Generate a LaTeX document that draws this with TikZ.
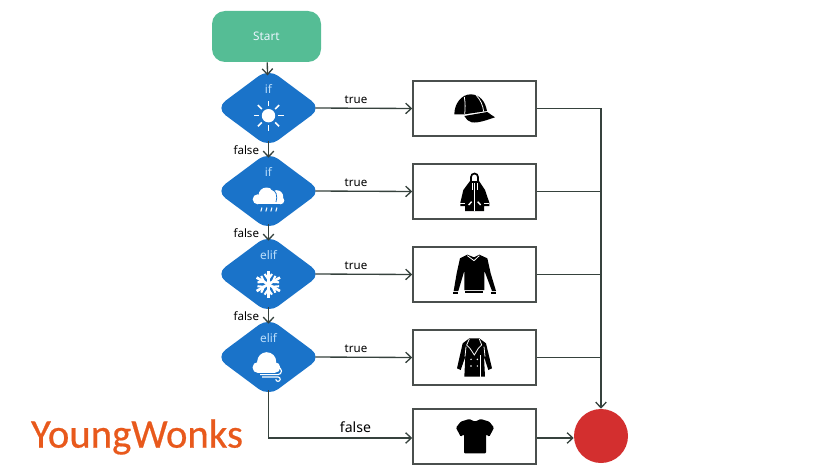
\documentclass[tikz,border=0pt]{standalone}
\usepackage{fontspec}
\setmainfont{Noto Sans}
\newfontfamily\logofont[FakeBold=0.5]{Carlito}
\usetikzlibrary{arrows.meta,shapes.geometric}
\def\px{0.025cm}
\definecolor{startgreen}{HTML}{55BD95}
\definecolor{diffblue}{HTML}{1A73C9}
\definecolor{iftext}{HTML}{BBDEFB}
\definecolor{flowgrey}{HTML}{36423D}
\definecolor{boxgrey}{HTML}{4A4F4D}
\definecolor{endred}{HTML}{D32F2F}
\definecolor{logoorange}{HTML}{E8591C}
\tikzset{
    flow/.style={draw=flowgrey,line width=0.95pt},
    arrow/.style={flow,-{Straight Barb[length=4pt,width=7.5pt]}},
    startbox/.style={fill=startgreen,rounded corners=13*\px,minimum width=109*\px,minimum height=51*\px,text=iftext!30!white,font=\fontsize{8.4}{10}\selectfont},
    test/.style={diamond,fill=diffblue,rounded corners=12*\px,minimum width=102*\px,minimum height=75*\px,inner sep=0pt,outer sep=-3pt},
    testname/.style={text=iftext,font=\fontsize{8.4}{10}\selectfont},
    wearbox/.style={draw=boxgrey,line width=1.1pt,minimum width=123*\px,minimum height=55*\px},
    lab/.style={text=black,font=\fontsize{8.2}{10}\selectfont,inner sep=2pt},
    seam/.style={draw=white,line width=0.55pt},
}
\begin{document}
\begin{tikzpicture}[x=\px,y=-\px]
    \useasboundingbox (0,0) rectangle (840,473);
    \node[startbox] (start) at (266.5,36.5) {Start};
    \node[test] (d1) at (268.5,108) {};
    \node[test] (d2) at (268.5,191) {};
    \node[test] (d3) at (268.5,274) {};
    \node[test] (d4) at (268.5,357) {};
    \node[testname] (n1) at (268.5,88.5) {if};
    \node[testname] (n2) at (268.5,171.5) {if};
    \node[testname] (n3) at (268.5,255) {elif};
    \node[testname] (n4) at (268.5,338) {elif};
    \node[wearbox] (b1) at (474.5,108.5) {};
    \node[wearbox] (b2) at (474.5,191.5) {};
    \node[wearbox] (b3) at (474.5,274.5) {};
    \node[wearbox] (b4) at (474.5,357.5) {};
    \node[wearbox] (b5) at (474.5,436.5) {};
    \node[circle,fill=endred,minimum size=54*\px,inner sep=0pt] (stop) at (601,436) {};
    \node[text=logoorange,font=\logofont\fontsize{29}{30}\selectfont,inner sep=0pt] (logo) at (137,437) {YoungWonks};
    % connectors
    \draw[arrow] (start) -- (d1);
    \draw[arrow] (d1) -- (d2) node[lab,midway,left,xshift=-6*\px,yshift=-1*\px] {false};
    \draw[arrow] (d2) -- (d3) node[lab,midway,left,xshift=-6*\px,yshift=-1*\px] {false};
    \draw[arrow] (d3) -- (d4) node[lab,midway,left,xshift=-6*\px,yshift=-1*\px] {false};
    \draw[arrow] (d1.east) -- (b1.west) node[lab,pos=0.42,above,yshift=1.5*\px] {true};
    \draw[arrow] (d2.east) -- (b2.west) node[lab,pos=0.42,above,yshift=1.5*\px] {true};
    \draw[arrow] (d3.east) -- (b3.west) node[lab,pos=0.42,above,yshift=1.5*\px] {true};
    \draw[arrow] (d4.east) -- (b4.west) node[lab,pos=0.42,above,yshift=1.5*\px] {true};
    \coordinate (low) at ([yshift=-1.5*\px]b5.west);
    \draw[arrow] (d4.south) |- (low);
    \node[lab,font=\fontsize{10}{12}\selectfont] (lastfalse) at (355.5,427.5) {false};
    \draw[arrow] (b1.east) -| (stop.north);
    \draw[flow] (b2.east) -- (b2.east -| stop.north);
    \draw[flow] (b3.east) -- (b3.east -| stop.north);
    \draw[flow] (b4.east) -- (b4.east -| stop.north);
    \draw[arrow] ([yshift=-1.5*\px]b5.east) -- ([yshift=-1.5*\px]b5.east -| stop.west);
    % sun
    \fill[white] (268.5,115.7) circle (6.7);
    \foreach \a in {0,45,...,315}
        \draw[white,line width=1.1pt] (268.5,115.7) ++(\a:9.5) -- ++(\a:5.5);
    % rain cloud
    \begin{scope}[shift={(268,197)}]
        \fill[white] (-1.5,-1.5) circle (8);
        \fill[white] (-10.3,2.3) circle (5);
        \fill[white] (8.7,-0.3) circle (6.5);
        \fill[white] (12.5,3.5) circle (3.8);
        \fill[white] (-10,1) rectangle (12.5,7.3);
        \draw[diffblue,line width=0.55pt] (3,-8) .. controls (8,-7) and (10,-1) .. (8,5);
        \foreach \x in {-6,-1,4,9}
            \draw[white,line width=0.7pt] (\x,10.5) -- ++(-1.2,4);
    \end{scope}
    % snowflake
    \begin{scope}[shift={(268.3,284.3)}]
        \foreach \a in {30,90,...,330} {
            \draw[white,line width=1.9pt] (0,0) -- (\a:13.5);
            \draw[white,line width=1.5pt] (\a:5) ++(\a+35:6.5) -- (\a:5) -- ++(\a-35:6.5);
        }
    \end{scope}
    % windy cloud
    \begin{scope}[shift={(268,364)}]
        \fill[white] (-1.3,-2.3) circle (9.5);
        \fill[white] (-10,3.5) circle (5.5);
        \fill[white] (7,3.5) circle (5.3);
        \fill[white] (-10,2) rectangle (7,8.8);
        \draw[white,line width=0.8pt] (-8,10.6) -- (10,10.6) arc (90:-180:3.5);
        \draw[white,line width=0.8pt] (-6,13) -- (10,13) arc (-90:180:2.2);
    \end{scope}
    % cap
    \begin{scope}[shift={(410,75)},scale=1/3]
        \fill[black] (133,118) .. controls (133,85) and (155,58) .. (182,58) .. controls (210,58) and (226,80) .. (231,108) -- (163,118) -- cycle;
        \fill[black] (163,123) -- (232,111) .. controls (240,118) and (250,123) .. (255,127) .. controls (230,135) and (205,145) .. (185,142) .. controls (175,140) and (168,132) .. cycle;
        \draw[seam] (163,66) .. controls (166,85) and (166,100) .. (164,117);
        \draw[seam] (198,60) .. controls (212,75) and (219,92) .. (221,110);
    \end{scope}
    % raincoat
    \begin{scope}[shift={(410,75)},scale=1/3]
        \fill[black] (180,318) -- (207,318) -- (225,345) -- (238,383) -- (238,393) -- (222,393) -- (222,408) -- (165,408) -- (165,393) -- (151,393) -- (151,383) -- (160,345) -- cycle;
        \draw[black,line width=1.2pt] (183,325) -- (183,306) arc (180:360:10.5) -- (204,325);
        \draw[seam] (194,325) -- (194,408);
        \draw[seam] (187,325) -- (187,345) (201,325) -- (201,345);
        \draw[seam] (151,385) -- (165,385) (222,385) -- (238,385);
        \draw[white,line width=1pt] (176,390) -- (185,380) (212,390) -- (203,380);
    \end{scope}
    % sweater
    \begin{scope}[shift={(410,240)},scale=1/3]
        \fill[black] (172,44) -- (192,52) -- (208,44) -- (232,55) -- (242,100) -- (258,153) -- (246,153) -- (223,92) -- (223,150) -- (163,150) -- (163,92) -- (145,153) -- (131,153) -- (140,100) -- (150,55) -- cycle;
        \fill[black] (130,156) rectangle (145,163);
        \fill[black] (244,156) rectangle (259,163);
        \fill[black] (166,153) rectangle (219,160);
        \draw[seam] (172,47) -- (192,62) -- (208,47);
    \end{scope}
    % coat
    \begin{scope}[shift={(410,240)},scale=1/3]
        \fill[black] (178,295) -- (208,295) -- (228,310) -- (246,385) -- (235,390) -- (222,350) -- (225,410) -- (163,410) -- (166,350) -- (152,390) -- (141,385) -- (158,310) -- cycle;
        \draw[seam] (178,297) -- (170,315) -- (180,325) -- (193,345) -- (205,325) -- (215,315) -- (208,297);
        \draw[seam] (212,345) -- (212,410);
        \draw[seam] (168,320) -- (165,350) (222,320) -- (225,350);
        \foreach \x in {183,202}
            \foreach \y in {358,378}
                \fill[white] (\x,\y) circle (2.5);
    \end{scope}
    % t-shirt
    \begin{scope}[shift={(410,390)},scale=1/3]
        \fill[black,rounded corners=1*\px] (138,113) -- (152,95) -- (178,87) -- (195,95) -- (212,87) -- (238,95) -- (252,113) -- (238,140) -- (228,133) -- (228,190) -- (162,190) -- (162,133) -- (152,140) -- cycle;
    \end{scope}
\end{tikzpicture}
\end{document}
